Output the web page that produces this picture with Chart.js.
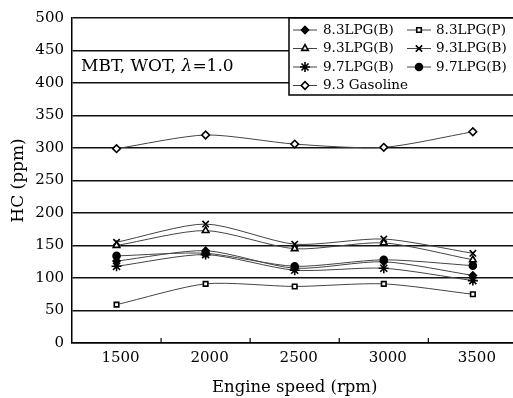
<!DOCTYPE html>
<html><head><meta charset="utf-8">
<script src="https://cdn.jsdelivr.net/npm/chart.js@4/dist/chart.umd.min.js"></script>
<style>html,body{margin:0;padding:0;background:#fff;overflow:hidden}#wrap{width:513px;height:398px;overflow:hidden}</style>
</head><body><div id="wrap"><canvas id="c" width="524" height="398"></canvas></div>
<script>
const categories = ['1500','2000','2500','3000','3500'];
const seriesNames = ['8.3LPG(B)','8.3LPG(P)','9.3LPG(B)','9.3LPG(B)','9.7LPG(B)','9.7LPG(B)','9.3 Gasoline'];
const lpg83B   = [126, 142, 115, 125, 104];
const lpg83P   = [59, 91, 87, 91, 75];
const lpg93B_t = [150, 173, 145, 154, 128];
const lpg93B_x = [155, 183, 152, 160, 138];
const lpg97B_s = [118, 136, 112, 115, 96];
const lpg97B_c = [134, 138, 118, 128, 119];
const gasoline93 = [299, 320, 306, 301, 325];
const yTicks = [0,50,100,150,200,250,300,350,400,450,500];

const serif = "'DejaVu Serif','Liberation Serif',serif";
const styles = [
  {ps:'rectRot', r:3.5, fill:'#000'},
  {ps:'rect', r:3.2, fill:'#fff'},
  {ps:'triangle', r:3.8, fill:'#fff'},
  {ps:'crossRot', r:4.5, fill:'#000'},
  {ps:'star', r:5, fill:'#000'},
  {ps:'circle', r:3.5, fill:'#000'},
  {ps:'rectRot', r:3.8, fill:'#fff'}
];
const values = [lpg83B, lpg83P, lpg93B_t, lpg93B_x, lpg97B_s, lpg97B_c, gasoline93];
const datasets = values.map((v,i)=>({
  label: seriesNames[i], data: v,
  borderColor:'#444', borderWidth:1, tension:0.25,
  pointStyle: styles[i].ps, pointRadius: styles[i].r,
  pointBackgroundColor: styles[i].fill, pointBorderColor:'#000', pointBorderWidth:1.6
}));

const extras = {
  id:'extras',
  afterDraw(chart){
    const ctx = chart.ctx, xs = chart.scales.x, ys = chart.scales.y;
    ctx.save();
    ctx.strokeStyle='#000'; ctx.lineWidth=1.2;
    for(let i=0;i<categories.length-1;i++){
      const x = xs.getPixelForValue(i+0.5);
      ctx.beginPath(); ctx.moveTo(x, ys.bottom); ctx.lineTo(x, ys.bottom-5); ctx.stroke();
    }
    ctx.fillStyle='#000'; ctx.textBaseline='middle'; ctx.textAlign='left';
    ctx.font = "17px " + serif;
    let x0 = 81, y0 = 67;
    const p1 = 'MBT, WOT, ';
    ctx.fillText(p1, x0, y0); x0 += ctx.measureText(p1).width;
    ctx.font = "italic 17px " + serif;
    ctx.fillText('λ', x0, y0); x0 += ctx.measureText('λ').width;
    ctx.font = "17px " + serif;
    ctx.fillText('=1.0', x0, y0);
    const lx = 289, ly = ys.top, lw = 240, lh = 77;
    ctx.fillStyle='#fff'; ctx.fillRect(lx, ly, lw, lh);
    ctx.strokeStyle='#000'; ctx.lineWidth=1.5; ctx.strokeRect(lx, ly, lw, lh);
    ctx.font = "13.5px " + serif; ctx.fillStyle='#000';
    const rows = [30, 48.5, 67, 85.5];
    seriesNames.forEach((n,i)=>{
      const col = i%2, row = Math.floor(i/2);
      const mx = col===0 ? 305 : 419, ty = rows[row];
      const tx = col===0 ? 323 : 436;
      ctx.strokeStyle='#444'; ctx.lineWidth=1;
      ctx.beginPath(); ctx.moveTo(mx-12, ty); ctx.lineTo(mx+12, ty); ctx.stroke();
      ctx.fillStyle = styles[i].fill; ctx.strokeStyle='#000'; ctx.lineWidth=1.6;
      Chart.helpers.drawPoint(ctx, {pointStyle: styles[i].ps, radius: styles[i].r, rotation:0, borderWidth:1.6}, mx, ty);
      ctx.fillStyle='#000';
      ctx.fillText(n, tx, ty);
    });
    ctx.restore();
  }
};

new Chart(document.getElementById('c'), {
  type:'line',
  data:{labels:categories, datasets},
  options:{
    responsive:false, animation:false, devicePixelRatio:1,
    layout:{padding:{top:18,right:0,left:0,bottom:0}},
    plugins:{legend:{display:false}, tooltip:{enabled:false}},
    scales:{
      x:{
        type:'category', offset:true,
        grid:{display:true, drawOnChartArea:false, drawTicks:false},
        border:{display:true, color:'#000', width:1.5},
        ticks:{color:'#000', font:{family:serif, size:15}, padding:6, labelOffset:4, maxRotation:0},
        title:{display:true, text:'Engine speed (rpm)', color:'#000', font:{family:serif, size:16.5}, padding:{top:3,bottom:0}},
        afterFit(s){ s.height = 55; }
      },
      y:{
        min:0, max:500,
        afterBuildTicks(s){ s.ticks = yTicks.map(v=>({value:v})); },
        grid:{color:'#111', lineWidth:1.5, drawTicks:false},
        border:{display:true, color:'#000', width:1.5},
        ticks:{color:'#000', font:{family:serif, size:15}, padding:8},
        title:{display:true, text:'HC (ppm)', color:'#000', font:{family:serif, size:17}, padding:{top:8,bottom:0}},
        afterFit(s){ s.width = 72; }
      }
    }
  },
  plugins:[extras]
});
</script></body></html>
